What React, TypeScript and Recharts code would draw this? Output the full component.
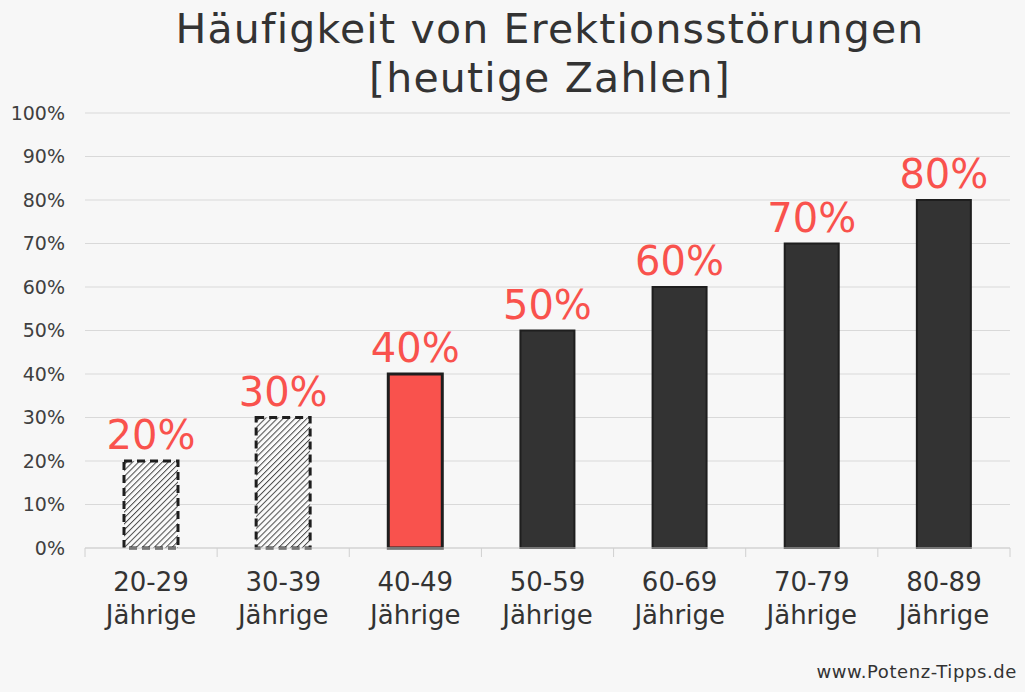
import { BarChart, Bar, XAxis, YAxis, CartesianGrid, Cell, LabelList } from "recharts";

const categories = ["20-29", "30-39", "40-49", "50-59", "60-69", "70-79", "80-89"];
const values = [20, 30, 40, 50, 60, 70, 80];
const yTicks = [0, 10, 20, 30, 40, 50, 60, 70, 80, 90, 100];
const ageSuffix = "Jährige";

const RED = "#f9524d";
const DARK = "#333333";
const FONT = "'DejaVu Sans', sans-serif";

const data = categories.map((c, i) => ({ age: c, value: values[i] }));

const W = 1025;
const H = 692;
const X_AXIS_H = 30;
const MARGIN = { top: 113, right: 15, bottom: 144 - X_AXIS_H, left: 15 };
const Y_AXIS_W = 70;
const BAND = (W - MARGIN.left - MARGIN.right - Y_AXIS_W) / categories.length;

// Zwei-zeiliges Label + Trennstriche zwischen den Kategorien
const AgeTick = (props: any) => {
  const { x, y, payload, index } = props;
  const top = y - 8;
  return (
    <g>
      <line x1={x - BAND / 2} x2={x - BAND / 2} y1={top} y2={top + 9} stroke="#d0d0d0" strokeWidth={1} />
      {index === categories.length - 1 && (
        <line x1={x + BAND / 2} x2={x + BAND / 2} y1={top} y2={top + 9} stroke="#d0d0d0" strokeWidth={1} />
      )}
      <text x={x} y={y} textAnchor="middle" fill={DARK} fontSize={26} fontFamily={FONT}>
        <tspan x={x} dy={35}>{payload.value}</tspan>
        <tspan x={x} dy={33}>{ageSuffix}</tspan>
      </text>
    </g>
  );
};

export default function App() {
  return (
    <div style={{ position: "fixed", left: 0, top: 0, width: W, height: H, background: "#f7f7f7", fontFamily: FONT }}>
      <div
        style={{
          position: "absolute",
          top: 5,
          left: 50,
          width: W - 25,
          textAlign: "center",
          fontSize: 41,
          letterSpacing: 1.2,
          lineHeight: "49px",
          color: DARK,
        }}
      >
        Häufigkeit von Erektionsstörungen
        <br />
        [heutige Zahlen]
      </div>
      <BarChart width={W} height={H} data={data} margin={MARGIN} style={{ position: "absolute", left: 0, top: 0 }}>
        <defs>
          <pattern id="hatch" patternUnits="userSpaceOnUse" width={4.2} height={4.2} patternTransform="rotate(45)">
            <rect width={4.2} height={4.2} fill="#fbfbfb" />
            <line x1={0} y1={0} x2={0} y2={4.2} stroke="#4a4a4a" strokeWidth={2} />
          </pattern>
        </defs>
        <CartesianGrid vertical={false} stroke="#d9d9d9" />
        <XAxis
          dataKey="age"
          height={X_AXIS_H}
          axisLine={{ stroke: "#d0d0d0" }}
          tickLine={false}
          interval={0}
          tick={<AgeTick />}
        />
        <YAxis
          width={Y_AXIS_W}
          domain={[0, 100]}
          ticks={yTicks}
          axisLine={false}
          tickLine={false}
          tickMargin={14}
          tickFormatter={(v) => `${v}%`}
          tick={{ fill: "#404040", fontSize: 19, fontFamily: FONT }}
        />
        <Bar dataKey="value" barSize={54} isAnimationActive={false}>
          {data.map((_, i) => (
            <Cell
              key={`c-${i}`}
              fill={i < 2 ? "url(#hatch)" : i === 2 ? RED : DARK}
              stroke="#1e1e1e"
              strokeWidth={i < 3 ? 3 : 2}
              strokeDasharray={i < 2 ? "8 5" : undefined}
            />
          ))}
          <LabelList
            dataKey="value"
            position="top"
            offset={12}
            formatter={(v: any) => `${v}%`}
            fill={RED}
            fontSize={40}
            fontFamily={FONT}
          />
        </Bar>
      </BarChart>
      <div style={{ position: "absolute", right: 8, top: 661, fontSize: 18, letterSpacing: 0.6, color: DARK }}>
        www.Potenz-Tipps.de
      </div>
    </div>
  );
}
